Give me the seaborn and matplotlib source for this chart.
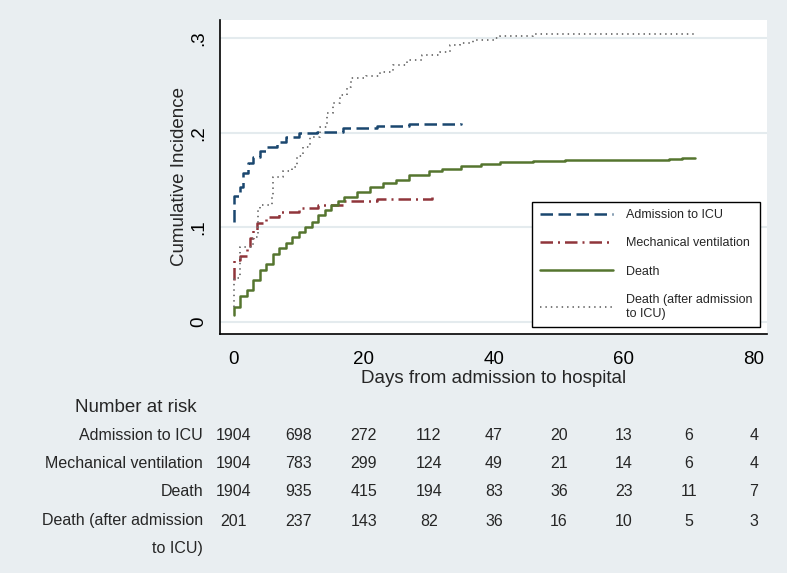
import matplotlib
matplotlib.use("Agg")
import matplotlib.pyplot as plt
import matplotlib.transforms as mtransforms
from matplotlib.lines import Line2D
import seaborn as sns
import pandas as pd

# ---- data ----
icu_days = [0, 0, 1, 1.4, 2.2, 3, 4, 5, 6.6, 8, 10, 12.8, 16.8, 22, 27, 35]
icu_ci = [0.105, 0.133, 0.143, 0.157, 0.168, 0.174, 0.181, 0.185, 0.190, 0.196,
          0.200, 0.201, 0.205, 0.207, 0.209, 0.210]

mv_days = [0, 0, 1, 2, 2.5, 3, 3.5, 5, 7, 10, 13, 17, 22, 30.5]
mv_ci = [0.044, 0.065, 0.070, 0.079, 0.089, 0.097, 0.104, 0.111, 0.116, 0.120,
         0.1235, 0.128, 0.1295, 0.1316]

death_days = [0, 0, 1, 2, 3, 4, 5, 6, 7, 8, 9, 10, 11, 12, 13, 14, 15, 16, 17, 19,
              21, 23, 25, 27, 30, 32, 35, 38, 41, 46, 51, 67, 69, 71]
death_ci = [0.007, 0.016, 0.027, 0.034, 0.044, 0.055, 0.061, 0.072, 0.078, 0.083,
            0.0895, 0.095, 0.1005, 0.106, 0.113, 0.118, 0.1235, 0.128, 0.132, 0.1376,
            0.143, 0.147, 0.150, 0.155, 0.159, 0.162, 0.165, 0.167, 0.1687, 0.170,
            0.171, 0.172, 0.173, 0.173]

dicu_days = [0, 0, 1, 3, 3.8, 4, 5.8, 6, 7.6, 9, 9.7, 10.7, 11.7, 13.3, 14.3, 15.3,
             16.3, 17.4, 18, 20.4, 22.5, 24.5, 26.6, 29, 31.7, 33.3, 34.8, 36.8, 40,
             41, 46, 71]
dicu_ci = [0.016, 0.046, 0.079, 0.090, 0.118, 0.1235, 0.134, 0.153, 0.159, 0.164,
           0.175, 0.185, 0.196, 0.206, 0.2205, 0.231, 0.240, 0.2487, 0.2576, 0.260,
           0.2646, 0.2716, 0.277, 0.282, 0.2857, 0.293, 0.295, 0.298, 0.2999, 0.302,
           0.305, 0.305]

series_labels = ["Admission to ICU", "Mechanical ventilation", "Death",
                 "Death (after admission\nto ICU)"]
risk_labels = ["Admission to ICU", "Mechanical ventilation", "Death",
               "Death (after admission"]
risk_times = [0, 10, 20, 30, 40, 50, 60, 70, 80]
risk_icu = [1904, 698, 272, 112, 47, 20, 13, 6, 4]
risk_mv = [1904, 783, 299, 124, 49, 21, 14, 6, 4]
risk_death = [1904, 935, 415, 194, 83, 36, 23, 11, 7]
risk_dicu = [201, 237, 143, 82, 36, 16, 10, 5, 3]

x_ticks = [0, 20, 40, 60, 80]
y_ticks = [0, 0.1, 0.2, 0.3]
y_ticklabels = ["0", ".1", ".2", ".3"]

# ---- styling ----
sns.set_style("white")
plt.rcParams["font.family"] = ["Liberation Sans", "DejaVu Sans"]
BG = "#e9eef1"
colors = ["#1a476f", "#90353b", "#55752f", "#6e6e6e"]
styles = [(0, (5, 2.2)), (0, (5, 2, 0.8, 2)), "-", (0, (0.8, 2.2))]
widths = [1.8, 1.8, 1.8, 1.3]

fig = plt.figure(figsize=(7.87, 5.73), dpi=100, facecolor=BG)
ax = fig.add_axes([220 / 787, 1 - 334 / 573, 547 / 787, 314 / 573])
ax.set_facecolor("white")

series = [(icu_days, icu_ci), (mv_days, mv_ci), (death_days, death_ci),
          (dicu_days, dicu_ci)]
for (d, c), lab, col, ls, lw in zip(series, series_labels, colors, styles, widths):
    df = pd.DataFrame({"days": d, "ci": c})
    sns.lineplot(data=df, x="days", y="ci", ax=ax, color=col, linestyle=ls,
                 linewidth=lw, drawstyle="steps-post", estimator=None, sort=False,
                 label=lab, legend=False)

ax.set_xlim(-2.12, 82.0)
ax.set_ylim(-0.013, 0.3193)
ax.set_xticks(x_ticks)
ax.set_xticklabels([str(t) for t in x_ticks])
ax.set_yticks(y_ticks)
ax.set_yticklabels(y_ticklabels)
ax.tick_params(axis="y", labelrotation=90, length=6, width=1.2, labelsize=13.5, pad=3)
ax.tick_params(axis="x", length=6, width=1.2, labelsize=13.5, pad=6)
for lab in ax.get_yticklabels():
    lab.set_va("center")
ax.grid(axis="y", color="#e4ebee", linewidth=1.5)
ax.grid(axis="x", visible=False)
ax.set_axisbelow(True)
for s in ["top", "right"]:
    ax.spines[s].set_visible(False)
for s in ["left", "bottom"]:
    ax.spines[s].set_color("black")
    ax.spines[s].set_linewidth(1.2)
ax.tick_params(colors="black")
ax.set_xlabel("Days from admission to hospital", fontsize=13.5, labelpad=2)
ax.set_ylabel("Cumulative Incidence", fontsize=13.5, labelpad=2)

handles = [Line2D([0], [0], color=c, linestyle=ls, linewidth=lw)
           for c, ls, lw in zip(colors, styles, widths)]
leg = ax.legend(handles, series_labels, loc="lower right",
                bbox_to_anchor=(0.987, 0.022), borderaxespad=0, fontsize=9,
                frameon=True, fancybox=False, edgecolor="black", framealpha=1,
                facecolor="white", handlelength=5.9, labelspacing=1.3,
                borderpad=0.6, handletextpad=1.0)
leg.get_frame().set_linewidth(1.0)

# ---- number at risk table ----
trans = mtransforms.blended_transform_factory(ax.transData, fig.transFigure)
fig.text(75 / 787, 1 - 408 / 573, "Number at risk", fontsize=13.5, va="center",
         ha="left")
rows_y = [436, 464, 492, 521]
risk_rows = [risk_icu, risk_mv, risk_death, risk_dicu]
for lab, yy, vals in zip(risk_labels, rows_y, risk_rows):
    fig.text(203 / 787, 1 - yy / 573, lab, fontsize=11.5, ha="right", va="center")
    for t, v in zip(risk_times, vals):
        fig.text(t, 1 - yy / 573, str(v), fontsize=11.5, ha="center", va="center",
                 transform=trans)
fig.text(203 / 787, 1 - 549 / 573, "to ICU)", fontsize=11.5, ha="right",
         va="center")

fig.savefig("out.png", dpi=100, facecolor=BG)
